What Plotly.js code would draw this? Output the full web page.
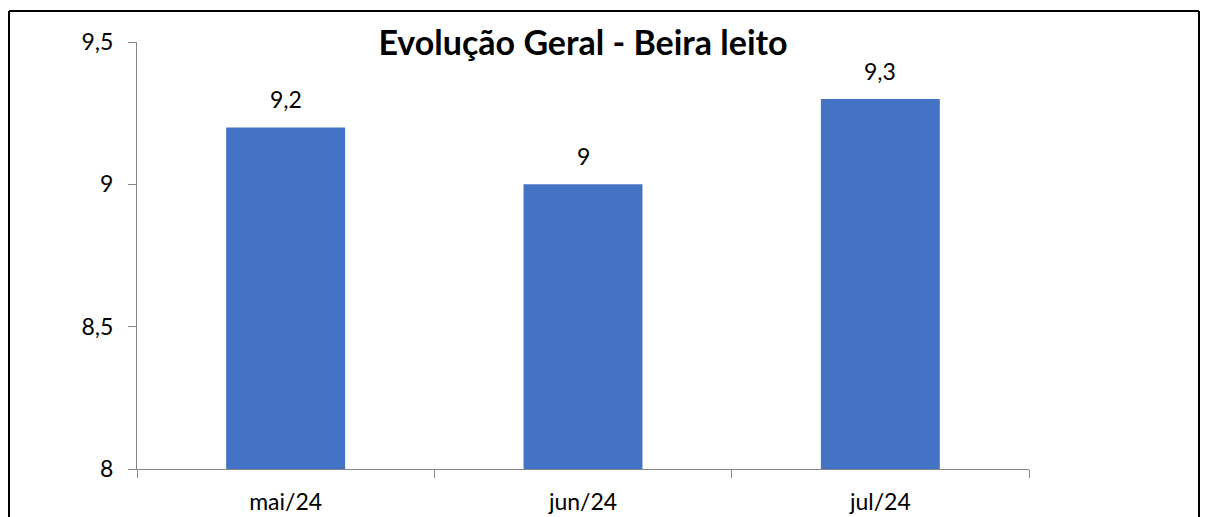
<!DOCTYPE html>
<html>
<head>
<meta charset="utf-8">
<script src="https://cdn.plot.ly/plotly-3.0.1.min.js"></script>
<style>
  html, body { margin: 0; padding: 0; background: #fff; }
  #chart { width: 1208px; height: 517px; }
</style>
</head>
<body>
<div id="chart"></div>
<script>
// Monthly overall score (bedside evaluation)
const months = ['mai/24', 'jun/24', 'jul/24'];
const scores = [9.2, 9.0, 9.3];
const yTickVals = [8, 8.5, 9, 9.5];

const labelText = scores.map(v => String(v).replace('.', ','));

const axisGrey = '#868686';
const fontFam = 'Lato, "Open Sans", sans-serif';
const tickSize = 23;

// plot area in pixels, used to place the outer frame
const W = 1208, H = 517;
const m = { l: 137, r: 179, t: 42, b: 48 };
const pw = W - m.l - m.r, ph = H - m.t - m.b;
const px = x => (x - m.l) / pw;
const py = y => 1 - (y - m.t) / ph;

const trace = {
  type: 'bar',
  x: months,
  y: scores,
  marker: { color: '#4472C4' },
  hoverinfo: 'skip'
};

// value labels above each bar
const valueLabels = months.map((mo, i) => ({
  x: mo, y: scores[i], xref: 'x', yref: 'y',
  text: labelText[i],
  showarrow: false,
  yanchor: 'bottom', yshift: 12,
  font: { family: fontFam, size: tickSize, color: '#000' }
}));

const frame = { type: 'line', xref: 'paper', yref: 'paper', line: { color: '#000', width: 2 } };

const layout = {
  width: W, height: H,
  margin: m,
  paper_bgcolor: '#fff',
  plot_bgcolor: '#fff',
  separators: ',.',
  showlegend: false,
  bargap: 0.6,
  font: { family: fontFam, size: tickSize, color: '#000' },
  title: {
    text: '<b>Evolução Geral - Beira leito</b>',
    font: { family: fontFam, size: 34, color: '#000' },
    x: 0.5, xref: 'paper', xanchor: 'center',
    y: 1 - 43 / H, yref: 'container', yanchor: 'middle'
  },
  xaxis: {
    type: 'category',
    tickson: 'boundaries',
    ticks: 'outside', ticklen: 8, tickcolor: axisGrey, tickwidth: 1,
    showline: true, linecolor: axisGrey, linewidth: 1,
    showgrid: false, zeroline: false,
    tickfont: { family: fontFam, size: tickSize, color: '#000' },
    ticklabelstandoff: 12
  },
  yaxis: {
    range: [8, 9.5],
    tickvals: yTickVals,
    ticks: 'outside', ticklen: 8, tickcolor: axisGrey, tickwidth: 1,
    showline: true, linecolor: axisGrey, linewidth: 1,
    showgrid: false, zeroline: false,
    tickfont: { family: fontFam, size: tickSize, color: '#000' },
    ticklabelstandoff: 10
  },
  annotations: valueLabels,
  shapes: [
    Object.assign({}, frame, { x0: px(9), x1: px(1199), y0: py(11), y1: py(11) }),
    Object.assign({}, frame, { x0: px(9), x1: px(9), y0: py(11), y1: py(520) }),
    Object.assign({}, frame, { x0: px(1199), x1: px(1199), y0: py(11), y1: py(520) })
  ]
};

Plotly.newPlot('chart', [trace], layout, { displayModeBar: false, staticPlot: true });
</script>
</body>
</html>
